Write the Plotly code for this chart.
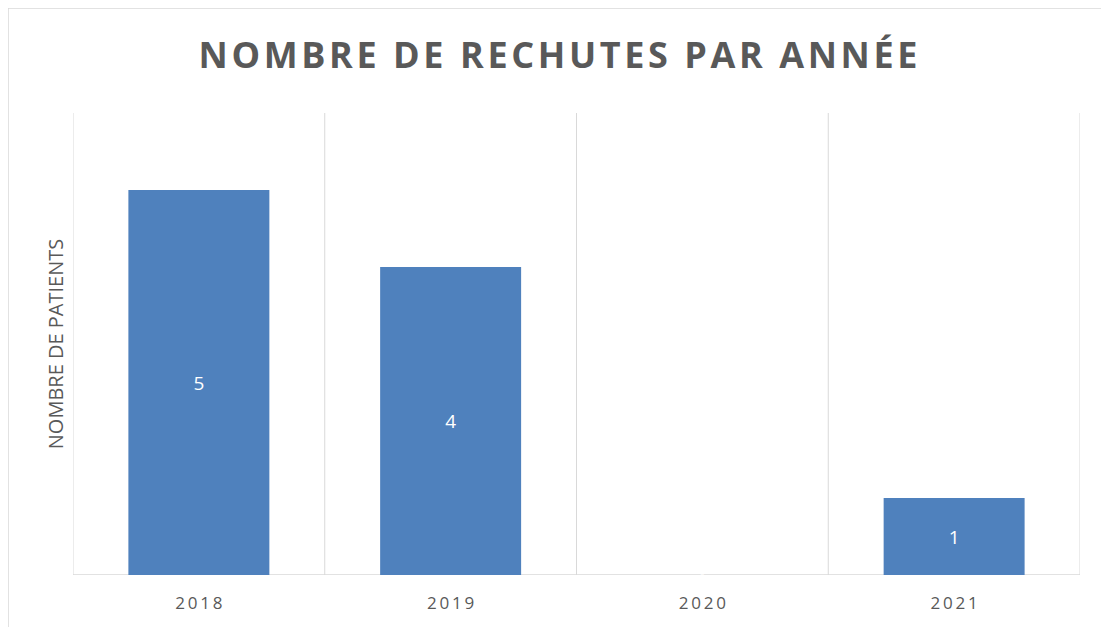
import plotly.graph_objects as go

categories = ["2018", "2019", "2020", "2021"]
values = [5, 4, 0, 1]
title_text = "NOMBRE DE RECHUTES PAR ANNÉE"
y_title = "NOMBRE DE PATIENTS"

# page body has an 8px margin; figure sized to fill the window
OFF = 8
W, H = 1109 - OFF, 627 - OFF
ml, mr, mt, mb = 73 - OFF, 29, 113 - OFF, 52
grid = "#d9d9d9"
txt = "#595959"

def spaced(s, sep="\u200a"):
    return sep.join(s)

fig = go.Figure(go.Bar(
    x=list(range(len(categories))), y=values,
    marker=dict(color="#4F81BD", line=dict(width=0)),
    width=0.56,
    text=[str(v) for v in values], textposition="inside",
    insidetextanchor="middle",
    textfont=dict(color="white", size=19, family="Open Sans"),
    constraintext="none",
    cliponaxis=False,
))

# zero-value label (white, on baseline)
fig.add_annotation(x=2, y=0, text=str(values[2]), showarrow=False,
                   font=dict(color="white", size=8, family="Open Sans"))

shapes = []
for i in range(len(categories) + 1):
    shapes.append(dict(type="line", xref="x", yref="paper", x0=i - 0.5, x1=i - 0.5,
                       y0=0, y1=1, line=dict(color=grid, width=1), layer="below"))
shapes.append(dict(type="line", xref="paper", yref="y", x0=0, x1=1, y0=0, y1=0,
                   line=dict(color=grid, width=1.5), layer="below"))
pw = W - ml - mr
ph = H - mt - mb
shapes.append(dict(type="rect", xref="paper", yref="paper",
                   x0=(0 - ml) / pw, x1=(W + 5 - ml) / pw,
                   y0=(H - mb - (H + 5)) / ph, y1=(H - mb) / ph,
                   line=dict(color=grid, width=1.5), fillcolor="rgba(0,0,0,0)", layer="below"))

fig.update_layout(
    width=W, height=H,
    margin=dict(l=ml, r=mr, t=mt, b=mb),
    paper_bgcolor="white", plot_bgcolor="white",
    showlegend=False,
    shapes=shapes,
    title=dict(text="<b>" + spaced(title_text, "\u200a") + "</b>",
               x=(558 - OFF) / W, xanchor="center",
               y=1 - (55 - OFF) / H, yanchor="middle",
               font=dict(size=36, color=txt, family="Open Sans")),
    xaxis=dict(range=[-0.5, len(categories) - 0.5], tickvals=list(range(len(categories))),
               ticktext=[spaced(c, "\u2009") for c in categories],
               showgrid=False, zeroline=False, showline=False, ticks="",
               ticklabelstandoff=16,
               tickfont=dict(size=17, color=txt, family="Open Sans")),
    yaxis=dict(range=[0, 6], showgrid=False, zeroline=False, showline=False,
               showticklabels=False, ticks="",
               title=dict(text=y_title, standoff=3,
                          font=dict(size=20, color=txt, family="Open Sans"))),
)

fig.write_html("out.html")
